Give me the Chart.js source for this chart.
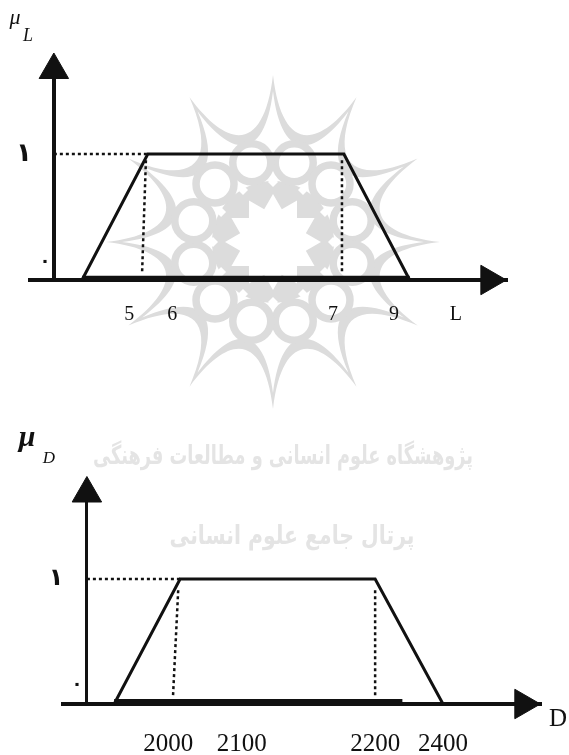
<!DOCTYPE html>
<html>
<head>
<meta charset="utf-8">
<script src="https://cdn.jsdelivr.net/npm/chart.js@4"></script>
<style>
html,body{margin:0;padding:0;background:#fff;width:569px;height:755px;overflow:hidden}
canvas{position:absolute;left:0;display:block}
#c1{top:0}
#c2{top:410px}
</style>
</head>
<body>
<canvas id="c1" width="569" height="410"></canvas>
<canvas id="c2" width="569" height="345"></canvas>
<script>
// Horizontal values are percent of the axis length, because the printed labels are not to scale.
const lKnots = [10.9, 24.7, 65.8, 79.6];
const lMembership = [0, 1, 1, 0];
const lTickPositions = [20.8, 29.8, 63.5, 76.3, 89.3];
const lTickLabels = ['5', '6', '7', '9', 'L'];
const lGuideLeftX = [24.3, 23.5];
const lGuideRightX = [65.4, 65.4];
const lGuideY = [0.95, 0.06];
const lLevelX = [5, 24.7];

const dKnots = [10.7, 24.5, 65.3, 79.5];
const dMembership = [0, 1, 1, 0];
const dTickPositions = [22, 37.4, 65.3, 79.5];
const dTickLabels = ['2000', '2100', '2200', '2400'];
const dGuideLeftX = [24.1, 23.0];
const dGuideRightX = [65.3, 65.3];
const dGuideY = [0.91, 0.05];
const dLevelX = [5, 24.5];

const INK = '#111111';
const WASH = '#dcdcdc';
const SERIF = '"Liberation Serif", serif';

const zip = (xs, ys) => xs.map((x, i) => ({x, y: ys[i]}));

function drawRosette(ctx, cx, cy) {
  const P = (r, a) => [cx + r * Math.sin(a), cy - r * Math.cos(a)];
  const star = (R, rho) => {
    const step = Math.PI / 6, lean = Math.PI / 36;
    ctx.beginPath();
    ctx.moveTo(...P(R, 0));
    for (let k = 0; k < 12; k++) {
      const a = k * step;
      ctx.bezierCurveTo(...P(rho, a + lean), ...P(rho, a + step - lean), ...P(R, a + step));
    }
    ctx.closePath();
  };
  ctx.save();
  ctx.fillStyle = WASH;
  star(167, 96); ctx.fill();
  ctx.fillStyle = '#fff';
  star(151, 87); ctx.fill();
  ctx.fillStyle = WASH;
  ctx.beginPath(); ctx.arc(cx, cy, 61, 0, Math.PI * 2); ctx.fill();
  ctx.strokeStyle = WASH;
  ctx.lineWidth = 7.5;
  for (let k = 0; k < 12; k++) {
    const [x, y] = P(82, (k + 0.5) * Math.PI / 6);
    ctx.beginPath();
    ctx.arc(x, y, 19, 0, Math.PI * 2);
    ctx.fillStyle = '#fff';
    ctx.fill();
    ctx.stroke();
  }
  ctx.fillStyle = '#fff';
  for (let k = 0; k < 12; k++) {
    const [x, y] = P(60, k * Math.PI / 6);
    const s = 5;
    ctx.beginPath();
    ctx.moveTo(x, y - s); ctx.lineTo(x + s, y); ctx.lineTo(x, y + s); ctx.lineTo(x - s, y);
    ctx.closePath(); ctx.fill();
  }
  ctx.beginPath();
  for (let k = 0; k < 24; k++) {
    ctx.lineTo(...P(k % 2 ? 34 : 48, k * Math.PI / 12));
  }
  ctx.closePath(); ctx.fill();
  ctx.restore();
}

function put(ctx, text, x, y, font, rtl) {
  ctx.save();
  ctx.font = font;
  ctx.fillStyle = INK;
  ctx.textAlign = 'center';
  ctx.textBaseline = 'middle';
  if (rtl) ctx.direction = 'rtl';
  ctx.fillText(text, x, y);
  ctx.restore();
}

function trapezoidChart(id, cfg) {
  const line = (data, opts) => Object.assign({
    data, showLine: true, pointRadius: 0, borderColor: INK, backgroundColor: INK,
    borderWidth: 3, clip: false, tension: 0
  }, opts);
  const dotted = {borderWidth: 2.5, borderDash: [3, 3]};
  const arrow = (pt, rotation) => ({
    data: [pt], showLine: false, pointStyle: 'triangle', pointRadius: 17, pointRotation: rotation,
    pointBackgroundColor: INK, pointBorderColor: INK, pointBorderWidth: 1, clip: false
  });
  new Chart(document.getElementById(id), {
    type: 'scatter',
    data: {datasets: [
      line(zip(cfg.knots, cfg.membership), {borderWidth: 3}),
      line([{x: cfg.knots[0], y: cfg.thickLift}, {x: cfg.thickEnd, y: cfg.thickLift}], {borderWidth: 6}),
      line(zip(cfg.levelX, [1, 1]), dotted),
      line(zip(cfg.guideLeftX, cfg.guideY), dotted),
      line(zip(cfg.guideRightX, cfg.guideY), dotted),
      arrow({x: cfg.levelX[0], y: cfg.yMax}, 0),
      arrow({x: 96.3, y: 0}, 90)
    ]},
    options: {
      responsive: false,
      animation: false,
      events: [],
      layout: {padding: cfg.padding},
      plugins: {legend: {display: false}, tooltip: {enabled: false}, title: {display: false}},
      scales: {
        x: {
          type: 'linear', min: 0, max: 100,
          position: {y: 0},
          afterBuildTicks: s => { s.ticks = cfg.tickPositions.map(value => ({value})); },
          grid: {display: false, drawTicks: false},
          border: {display: true, color: INK, width: 4},
          ticks: {
            autoSkip: false, maxRotation: 0, minRotation: 0, padding: cfg.tickPad, color: INK,
            font: {family: SERIF, size: cfg.tickSize},
            callback: (v, i) => cfg.tickLabels[i]
          }
        },
        y: {
          type: 'linear', min: 0, max: cfg.yMax,
          position: {x: cfg.levelX[0]},
          afterBuildTicks: s => { s.ticks = []; },
          grid: {display: false, drawTicks: false},
          border: {display: true, color: INK, width: cfg.yAxisWidth},
          ticks: {display: false}
        }
      }
    },
    plugins: [{
      id: 'paper',
      beforeDraw: c => cfg.underlay(c.ctx),
      afterDraw: c => cfg.overlay(c.ctx)
    }]
  });
}

trapezoidChart('c1', {
  knots: lKnots, membership: lMembership, thickEnd: lKnots[3], thickLift: 0.01,
  levelX: lLevelX, guideLeftX: lGuideLeftX, guideRightX: lGuideRightX, guideY: lGuideY,
  tickPositions: lTickPositions, tickLabels: lTickLabels,
  tickSize: 20, tickPad: 23, yMax: 1.667, yAxisWidth: 4,
  padding: {top: 70, left: 30, right: 62, bottom: 130},
  underlay: ctx => drawRosette(ctx, 273, 242),
  overlay: ctx => {
    put(ctx, 'μ', 15, 18, 'italic 22px ' + SERIF);
    put(ctx, 'L', 28, 36, 'italic 18px ' + SERIF);
    put(ctx, '١', 24, 154, 'bold 26px "DejaVu Sans"', true);
    put(ctx, '٠', 45, 262, 'bold 18px "DejaVu Sans"', true);
  }
});

trapezoidChart('c2', {
  knots: dKnots, membership: dMembership, thickEnd: 71, thickLift: 0.016,
  levelX: dLevelX, guideLeftX: dGuideLeftX, guideRightX: dGuideRightX, guideY: dGuideY,
  tickPositions: dTickPositions, tickLabels: dTickLabels,
  tickSize: 25, tickPad: 25, yMax: 1.684, yAxisWidth: 3,
  padding: {top: 83.5, left: 63, right: 28, bottom: 51},
  underlay: ctx => {
    ctx.save();
    ctx.fillStyle = '#e4e4e4';
    ctx.textAlign = 'center';
    ctx.textBaseline = 'middle';
    ctx.direction = 'rtl';
    ctx.font = 'bold 26px "DejaVu Sans"';
    ctx.fillText('پژوهشگاه علوم انسانی و مطالعات فرهنگی', 283, 47, 380);
    ctx.fillText('پرتال جامع علوم انسانی', 292, 127, 245);
    ctx.restore();
  },
  overlay: ctx => {
    put(ctx, 'μ', 27, 28, 'bold italic 30px ' + SERIF);
    put(ctx, 'D', 49, 49, 'italic 17px ' + SERIF);
    put(ctx, '١', 56, 169, 'bold 24px "DejaVu Sans"', true);
    put(ctx, '٠', 77, 275, 'bold 18px "DejaVu Sans"', true);
    put(ctx, 'D', 558, 309, '25px ' + SERIF);
  }
});
</script>
</body>
</html>
